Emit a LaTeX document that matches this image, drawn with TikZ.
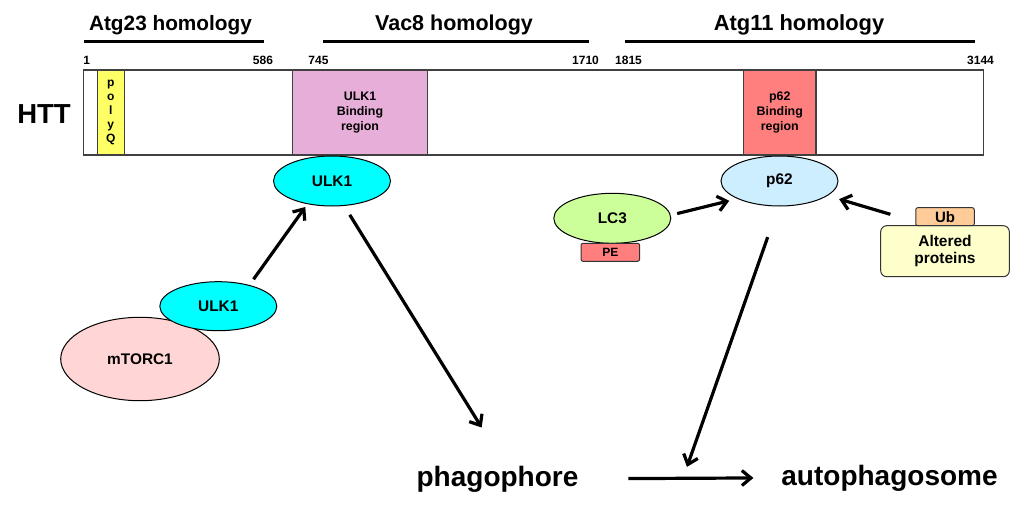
\documentclass[tikz,border=0pt]{standalone}
\usepackage{fontspec}
\setmainfont{Liberation Sans}
\usepackage{xcolor}
\usetikzlibrary{positioning,shapes.geometric,arrows.meta}

\definecolor{polyqcol}{HTML}{FFFF66}
\definecolor{ulkregcol}{HTML}{E6AED8}
\definecolor{p62regcol}{HTML}{FF7F7F}
\definecolor{ulkcol}{HTML}{00FFFF}
\definecolor{p62col}{HTML}{CCEEFF}
\definecolor{lc3col}{HTML}{CCFF99}
\definecolor{mtorcol}{HTML}{FFD5D5}
\definecolor{ubcol}{HTML}{FFCC99}
\definecolor{altcol}{HTML}{FFFFCC}
\definecolor{pecol}{HTML}{FF7F7F}

\begin{document}
\begin{tikzpicture}[x=1pt,y=-1pt,
    every node/.style={inner sep=0pt, outer sep=0pt},
    heading/.style={anchor=base, font=\fontsize{#1}{24}\selectfont\bfseries},
    resnum/.style={anchor=base, font=\fontsize{12}{14}\selectfont\bfseries},
    seqbox/.style={draw=black!75, line width=1.3pt, minimum height=85pt, align=center,
      font=\fontsize{12.4}{14.8}\selectfont\bfseries},
    blob/.style={ellipse, draw, line width=1pt, minimum width=117pt, minimum height=50pt,
      font=\fontsize{15.4}{18}\selectfont\bfseries},
    tag/.style={draw=black!80, line width=1pt, rounded corners=2pt, minimum width=58.5pt,
      minimum height=18pt},
    stage/.style={anchor=base, font=\fontsize{28}{32}\selectfont\bfseries},
    arr/.style={-{Straight Barb[length=9pt,width=15pt]}, line width=3.2pt},
    rule/.style={line width=3pt}]
  \useasboundingbox (0,0) rectangle (1024,508);

  % Homology regions
  \node[heading=20.8] (atg23) at (170.5,31) {Atg23 homology};
  \node[heading=21.5] (vac8) at (454,31) {Vac8 homology};
  \node[heading=21.9] (atg11) at (799,31) {Atg11 homology};
  \draw[rule] (84,42) -- (264,42);
  \draw[rule] (323,42) -- (589,42);
  \draw[rule] (625,42) -- (975,42);

  % Residue numbers
  \node[resnum] (n1) at (86.7,65) {1};
  \node[resnum] (n586) at (263,65) {586};
  \node[resnum] (n745) at (318.5,65) {745};
  \node[resnum] (n1710) at (585.5,65) {1710};
  \node[resnum] (n1815) at (628.5,65) {1815};
  \node[resnum] (n3144) at (980.5,65) {3144};

  % HTT bar
  \node[anchor=base, font=\fontsize{27.5}{30}\selectfont\bfseries] (httlabel) at (44,124) {HTT};
  \node[seqbox, fill=white, minimum width=900.4pt] (htt) at (533.5,112.5) {};
  \node[seqbox, fill=polyqcol, minimum width=27pt, font=\fontsize{12}{14.2}\selectfont\bfseries]
    (polyq) at (110.8,112.5) {p\\o\\l\\y\\Q};
  \node[seqbox, fill=ulkregcol, minimum width=135.4pt] (ulkreg) at (360,112.5) {ULK1\\Binding\\region};
  \node[seqbox, fill=p62regcol, minimum width=72.3pt] (p62reg) at (779.8,112.5) {p62\\Binding\\region};

  % Binding partners
  \node[blob, fill=ulkcol] (ulkt) at (332,181) {ULK1};
  \node[blob, fill=p62col] (p62) at (779.5,181) {p62};
  \node[blob, fill=lc3col] (lc3) at (612.3,218.3) {LC3};
  \node[tag, fill=pecol, below=0pt of lc3, xshift=-2pt, font=\fontsize{12}{14}\selectfont\bfseries] (pe) {PE};
  \node[tag, fill=altcol, rounded corners=6pt, minimum width=128.6pt, minimum height=51pt, align=center,
    font=\fontsize{15.5}{17}\selectfont\bfseries] (alt) at (945,251.2) {Altered\\proteins};
  \node[tag, fill=ubcol, above=0pt of alt, font=\fontsize{15}{17}\selectfont\bfseries] (ub) {Ub};
  \node[blob, fill=mtorcol, minimum width=158.6pt, minimum height=83.4pt] (mtor) at (140,359) {mTORC1};
  \node[blob, fill=ulkcol, minimum height=49pt] (ulkb) at (218.3,306.2) {ULK1};

  % Stages
  \node[stage] (phag) at (497.5,486) {phagophore};
  \node[stage] (auto) at (889.5,485) {autophagosome};
  \coordinate (join) at (682,481);

  % Arrows
  \draw[arr, shorten <=7.5pt, shorten >=4pt] (ulkb.34) -- (ulkt.223);
  \draw[arr, shorten <=11pt, shorten >=45pt] (ulkt.296) -- (phag.59);
  \draw[arr, shorten <=50pt, shorten >=28pt] (phag.east) -- (auto.west);
  \draw[arr, shorten <=33pt, shorten >=15pt] (p62.268) -- (join);
  \draw[arr, shorten <=7pt, shorten >=9pt] (lc3.3) -- (p62.203);
  \draw[arr, shorten <=26.5pt, shorten >=12.6pt] (ub.190) -- (p62.343);
\end{tikzpicture}
\end{document}
